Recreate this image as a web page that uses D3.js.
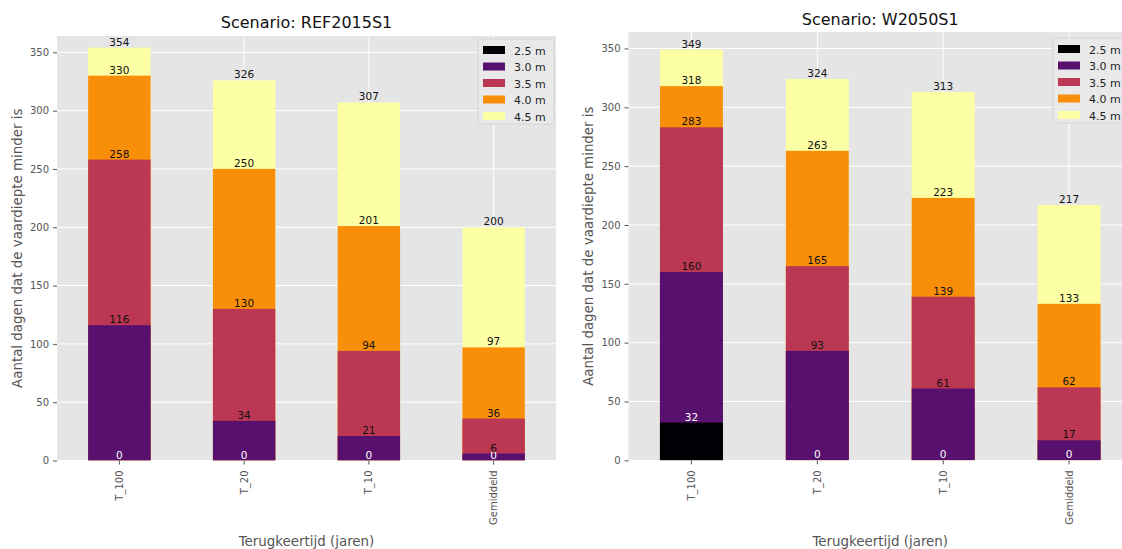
<!DOCTYPE html>
<html>
<head>
<meta charset="utf-8">
<script src="https://cdn.jsdelivr.net/npm/d3@7"></script>
<style>
  html, body { margin: 0; padding: 0; background: #fff; }
  svg { display: block; font-family: "DejaVu Sans", sans-serif; }
</style>
</head>
<body>
<svg id="chart" width="1122" height="549"></svg>
<script>
// ---- data ----
const categories = ["T_100", "T_20", "T_10", "Gemiddeld"];
const levels = ["2.5 m", "3.0 m", "3.5 m", "4.0 m", "4.5 m"];
const levelColors = ["#000004", "#57106e", "#bc3754", "#f98e09", "#fcffa4"];
const yTicks = [0, 50, 100, 150, 200, 250, 300, 350];

// number of days the depth is less than each level (REF2015S1)
const ref_25 = [0, 0, 0, 0];
const ref_30 = [116, 34, 21, 6];
const ref_35 = [258, 130, 94, 36];
const ref_40 = [330, 250, 201, 97];
const ref_45 = [354, 326, 307, 200];

// W2050S1
const w50_25 = [32, 0, 0, 0];
const w50_30 = [160, 93, 61, 17];
const w50_35 = [283, 165, 139, 62];
const w50_40 = [318, 263, 223, 133];
const w50_45 = [349, 324, 313, 217];

const panels = [
  { title: "Scenario: REF2015S1", series: [ref_25, ref_30, ref_35, ref_40, ref_45],
    x0: 57, x1: 556, y0: 36, y1: 460.5, titleY: 28, ylabX: 22, legX: 478, legY: 39 },
  { title: "Scenario: W2050S1", series: [w50_25, w50_30, w50_35, w50_40, w50_45],
    x0: 628.5, x1: 1132, y0: 32, y1: 460.3, titleY: 25, ylabX: 593, legX: 1053, legY: 38 }
];

const svg = d3.select("#chart");
const tickColor = "#555555";

panels.forEach((p, pi) => {
  const g = svg.append("g");
  const x = d3.scaleBand().domain(categories).range([p.x0, p.x1]).paddingInner(0.5).paddingOuter(0.25);
  const y = d3.scaleLinear().domain([0, 364]).range([p.y1, p.y0]);

  const clipId = "clip" + pi;
  svg.append("clipPath").attr("id", clipId)
    .append("rect").attr("x", p.x0).attr("y", p.y0).attr("width", p.x1 - p.x0).attr("height", p.y1 - p.y0);

  // background
  g.append("rect").attr("x", p.x0).attr("y", p.y0)
    .attr("width", p.x1 - p.x0).attr("height", p.y1 - p.y0).attr("fill", "#E5E5E5");

  // grid
  g.append("g").selectAll("line").data(yTicks).join("line")
    .attr("x1", p.x0).attr("x2", p.x1)
    .attr("y1", d => y(d)).attr("y2", d => y(d))
    .attr("stroke", "#fff").attr("stroke-width", 1);
  g.append("g").selectAll("line").data(categories).join("line")
    .attr("x1", d => x(d) + x.bandwidth() / 2).attr("x2", d => x(d) + x.bandwidth() / 2)
    .attr("y1", p.y0).attr("y2", p.y1)
    .attr("stroke", "#fff").attr("stroke-width", 1);

  // bars: draw largest level first, smaller ones over it
  const barsG = g.append("g").attr("clip-path", `url(#${clipId})`);
  for (let s = levels.length - 1; s >= 0; s--) {
    barsG.append("g").selectAll("rect").data(p.series[s]).join("rect")
      .attr("x", (d, i) => x(categories[i]))
      .attr("width", x.bandwidth())
      .attr("y", d => y(d))
      .attr("height", d => y(0) - y(d))
      .attr("fill", levelColors[s]);
  }

  // value labels
  for (let s = 0; s < levels.length; s++) {
    g.append("g").selectAll("text").data(p.series[s]).join("text")
      .attr("x", (d, i) => x(categories[i]) + x.bandwidth() / 2)
      .attr("y", d => y(d) - 2)
      .attr("text-anchor", "middle")
      .attr("font-size", "10.5px")
      .attr("fill", s === 0 ? "#ffffff" : "#111111")
      .text(d => d);
  }

  // y axis
  const yAxis = d3.axisLeft(y).tickValues(yTicks).tickSize(4).tickPadding(4);
  const ya = g.append("g").attr("transform", `translate(${p.x0},0)`).call(yAxis);
  ya.select(".domain").remove();
  ya.selectAll("line").attr("stroke", tickColor);
  ya.selectAll("text").attr("fill", tickColor).attr("font-size", "10px")
    .attr("font-family", "DejaVu Sans, sans-serif");

  // x axis
  const xAxis = d3.axisBottom(x).tickSize(4).tickPadding(0);
  const xa = g.append("g").attr("transform", `translate(0,${p.y1})`).call(xAxis);
  xa.select(".domain").remove();
  xa.selectAll("line").attr("stroke", tickColor);
  xa.selectAll("text")
    .attr("fill", tickColor).attr("font-size", "10px")
    .attr("font-family", "DejaVu Sans, sans-serif")
    .attr("transform", "rotate(-90)")
    .attr("text-anchor", "end")
    .attr("x", -10).attr("y", 0).attr("dy", "0.35em");

  // title
  g.append("text").attr("x", (p.x0 + p.x1) / 2).attr("y", p.titleY)
    .attr("text-anchor", "middle").attr("font-size", "16px").attr("fill", "#111")
    .text(p.title);

  // axis labels
  g.append("text").attr("x", (p.x0 + p.x1) / 2).attr("y", 546)
    .attr("text-anchor", "middle").attr("font-size", "13.4px").attr("fill", tickColor)
    .text("Terugkeertijd (jaren)");
  g.append("text")
    .attr("transform", `translate(${p.ylabX},${(p.y0 + p.y1) / 2}) rotate(-90)`)
    .attr("text-anchor", "middle").attr("font-size", "13.4px").attr("fill", tickColor)
    .text("Aantal dagen dat de vaardiepte minder is");

  // legend
  const lg = g.append("g").attr("transform", `translate(${p.legX},${p.legY})`);
  lg.append("rect").attr("x", 0).attr("y", 0).attr("width", 76).attr("height", 85)
    .attr("rx", 2).attr("fill", "#E9E9E9").attr("fill-opacity", 0.9)
    .attr("stroke", "#D4D4D4").attr("stroke-width", 1);
  levels.forEach((lv, i) => {
    lg.append("rect").attr("x", 5).attr("y", 7 + i * 16.5)
      .attr("width", 22).attr("height", 8).attr("fill", levelColors[i]);
    lg.append("text").attr("x", 36).attr("y", 15.5 + i * 16.5)
      .attr("font-size", "11px").attr("fill", "#222").text(lv);
  });
});
</script>
</body>
</html>
